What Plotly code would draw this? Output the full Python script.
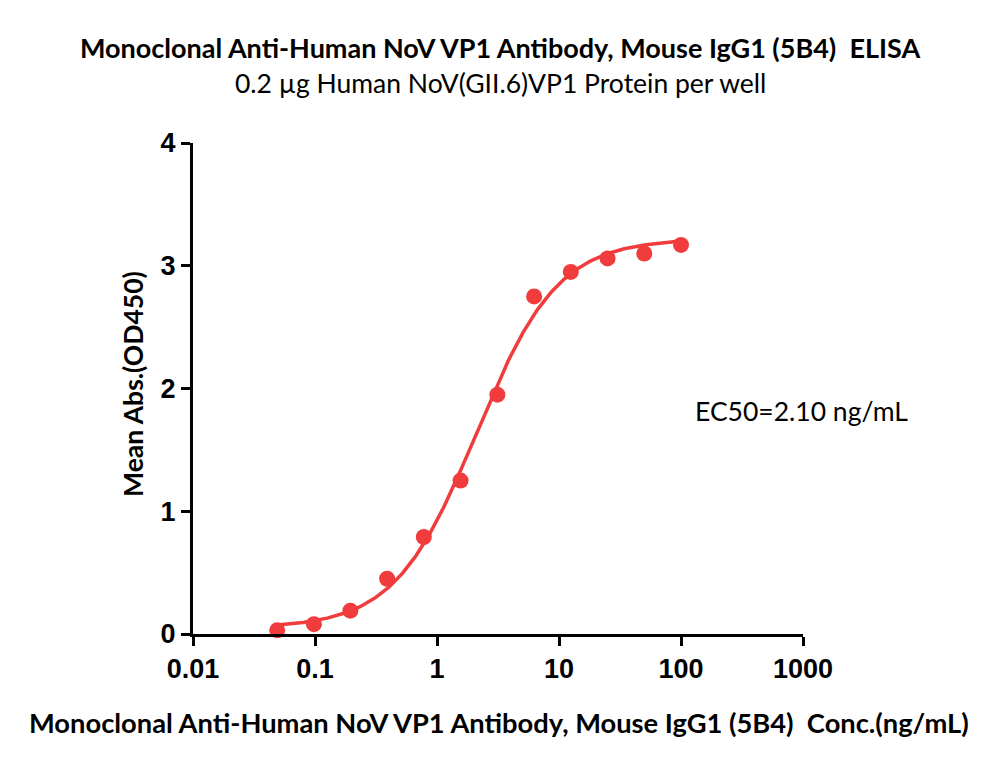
import numpy as np
import plotly.graph_objects as go

# Data
conc = [0.049, 0.098, 0.195, 0.39, 0.78, 1.56, 3.125, 6.25, 12.5, 25, 50, 100]
absorb = [0.03, 0.08, 0.19, 0.45, 0.79, 1.25, 1.95, 2.75, 2.95, 3.06, 3.10, 3.17]

# 4PL fit parameters (as shown: EC50 = 2.10 ng/mL)
fit_bottom = 0.05
fit_top = 3.22
fit_ec50 = 2.10
fit_hill = 1.30

x_ticks = [0.01, 0.1, 1, 10, 100, 1000]
x_tick_labels = ["0.01", "0.1", "1", "10", "100", "1000"]
y_ticks = [0, 1, 2, 3, 4]
y_tick_labels = ["0", "1", "2", "3", "4"]

title_text = "Monoclonal Anti-Human NoV VP1 Antibody, Mouse IgG1 (5B4)  ELISA"
subtitle_text = "0.2 µg Human NoV(GII.6)VP1 Protein per well"
x_title = "Monoclonal Anti-Human NoV VP1 Antibody, Mouse IgG1 (5B4)  Conc.(ng/mL)"
y_title = "Mean Abs.(OD450)"
ec50_text = "EC50=2.10 ng/mL"

red = "#f03c3c"

cx = np.logspace(np.log10(conc[0]), np.log10(conc[-1]), 300)
cy = fit_bottom + (fit_top - fit_bottom) / (1 + (fit_ec50 / cx) ** fit_hill)

fig = go.Figure()
fig.add_trace(go.Scatter(x=cx, y=cy, mode="lines",
                         line=dict(color=red, width=3.5), cliponaxis=False,
                         hoverinfo="skip", showlegend=False))
fig.add_trace(go.Scatter(x=conc, y=absorb, mode="markers",
                         marker=dict(color=red, size=16, line=dict(width=0)),
                         cliponaxis=False, showlegend=False))

fig.update_xaxes(type="log", range=[-2, 3], tickvals=x_ticks,
                 ticktext=["<b>" + t + "</b>" for t in x_tick_labels],
                 showgrid=False, zeroline=False, showline=True, linecolor="black",
                 linewidth=3, ticks="outside", ticklen=9, tickwidth=3, tickcolor="black",
                 tickfont=dict(family="Liberation Sans, Arial", size=27, color="black"))
fig.update_yaxes(range=[0, 4], tickvals=y_ticks,
                 ticktext=["<b>" + t + "</b>" for t in y_tick_labels],
                 showgrid=False, zeroline=False,
                 showline=True, linecolor="black", linewidth=3, ticks="outside",
                 ticklen=9, tickwidth=3, tickcolor="black",
                 tickfont=dict(family="Liberation Sans, Arial", size=27, color="black"))

calibri = "Lato, Open Sans, sans-serif"
annotations = [
    dict(text="<b>" + title_text + "</b>", x=500, y=48, font=dict(family=calibri, size=27)),
    dict(text=subtitle_text, x=500, y=83, font=dict(family=calibri, size=26.5)),
    dict(text="<b>" + x_title + "</b>", x=499, y=722, font=dict(family=calibri, size=27.3)),
    dict(text=ec50_text, x=801, y=411, font=dict(family=calibri, size=26.5)),
    dict(text="<b>" + y_title + "</b>", x=133, y=384, textangle=-90,
         font=dict(family=calibri, size=26.5)),
]
for a in annotations:
    a.update(xref="paper", yref="paper", showarrow=False,
             xanchor="center", yanchor="middle")
    a["font"]["color"] = "black"
    # convert pixel positions to paper coords
    a["x"] = (a["x"] - 193) / 610
    a["y"] = (634 - a["y"]) / 491

fig.update_layout(width=1000, height=769, paper_bgcolor="white", plot_bgcolor="white",
                  margin=dict(l=193, r=197, t=143, b=135), annotations=annotations,
                  showlegend=False)

fig.write_html("out.html")
